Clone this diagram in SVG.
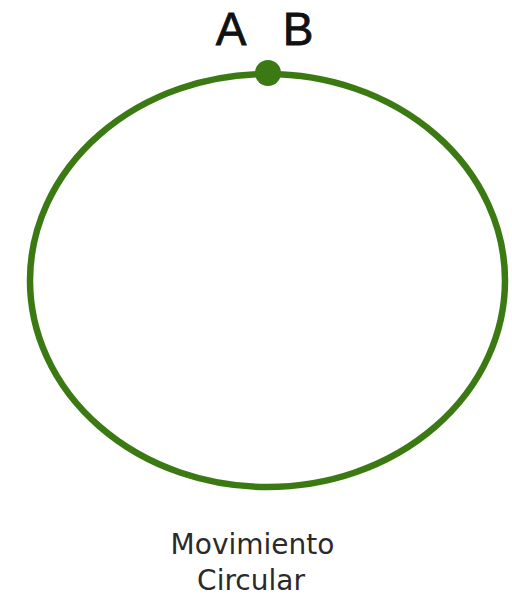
<svg xmlns="http://www.w3.org/2000/svg" width="512" height="598" viewBox="0 0 512 598">
<style>
.lbl{font-family:"Liberation Sans",Arial,sans-serif;font-size:46px;fill:#111;stroke:#111;stroke-width:0.8;text-anchor:middle}
.cap{font-family:"DejaVu Sans",Verdana,sans-serif;font-size:28px;fill:#2a2a2a;text-anchor:middle}
</style>
<rect width="512" height="598" fill="#fff"/>
<g id="circle">
<ellipse cx="267.5" cy="280.5" rx="237.5" ry="206.5" fill="none" stroke="#3b7a13" stroke-width="6.5"/>
</g>
<g id="point">
<circle cx="268" cy="73" r="13" fill="#3b7a13"/>
</g>
<g id="labels">
<text class="lbl" x="231" y="45">A</text>
<text class="lbl" x="298" y="45">B</text>
</g>
<g id="caption">
<text class="cap" x="252.5" y="554">Movimiento</text>
<text class="cap" x="251" y="590">Circular</text>
</g>
</svg>
